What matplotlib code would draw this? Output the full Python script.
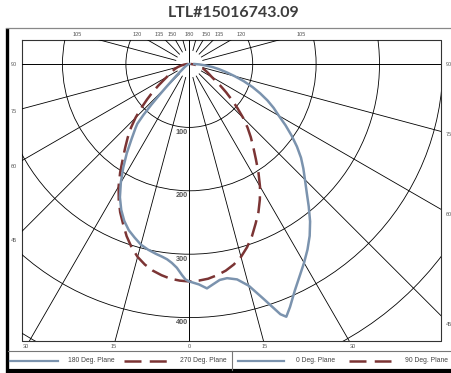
import matplotlib
matplotlib.use("Agg")
import matplotlib.pyplot as plt
from matplotlib.patches import Circle
import numpy as np

W, H, DPI = 452, 373, 100

title = "LTL#15016743.09"

# ---- data: candela values vs. angle from nadir (degrees) ----
angles_90 = [0, 2.5, 5, 7.5, 10, 12.5, 15, 17.5, 20, 22.5, 25, 27.5, 30, 32.5, 35,
             37.5, 40, 42.5, 45, 47.5, 50, 52.5, 55, 57.5, 60, 62.5, 65, 67.5, 70,
             72.5, 75, 77.5, 80, 82.5, 85, 87.5, 90]
cd_90_plane = [343, 342, 340, 336, 331, 324, 315, 303, 289, 273, 258, 241, 223, 203, 183,
               166, 151, 136, 120, 103, 87, 73, 60, 49, 41, 36, 32, 28, 25,
               22, 19, 15, 12, 9, 6, 4, 2]
angles_270 = list(angles_90)
cd_270_plane = list(cd_90_plane)

angles_0 = [0, 2.5, 4.5, 6, 8, 10, 12.5, 15, 17.5, 20, 21, 22.5, 25, 27.5, 30, 32.5,
            35, 37.5, 40, 42.5, 45, 47.5, 50, 52.5, 55, 57.5, 60, 62.5, 65, 67.5,
            70, 72.5, 75, 77.5, 80, 82.5, 85, 87.5, 90]
cd_0_plane = [343, 348, 355, 350, 344, 343, 348, 362, 388, 420, 427, 415, 394, 377, 362, 347,
              331, 313, 293, 274, 258, 244, 230, 214, 197, 180, 163, 150, 136, 121,
              106, 90, 74, 60, 48, 37, 25, 16, 8]

angles_180 = [0, 1, 2, 3.5, 5, 6.5, 8, 10, 12.5, 15, 17.5, 20, 22.5, 25, 27.5, 30,
              32.5, 35, 37.5, 40, 41, 42, 43, 44, 45, 46, 48, 50, 55, 60, 70, 80, 90]
cd_180_plane = [343, 340, 333, 322, 315, 310, 307, 304, 300, 295, 287, 279, 268, 254, 237, 216,
                194, 172, 150, 132, 125, 108, 88, 68, 52, 40, 27, 18, 10, 6, 3, 1, 0]

ring_values = [100, 200, 300, 400, 500, 600]
ring_labels = ["100", "200", "300", "400"]
ray_angles = [15, 30, 45, 60, 75, 105, 120, 135, 150, 165]
top_labels = [105, 120, 135, 150, 180]
side_labels = [90, 75, 60, 45]
bottom_labels = [30, 15, 0]
legend_labels = ["180 Deg. Plane", "270 Deg. Plane", "0 Deg. Plane", "90 Deg. Plane"]

BLUE = "#7b93ae"
RED = "#7b3434"
GRAYTXT = "#555555"
DASH = (0, (6.8, 2.9))

# ---- geometry (pixels) ----
cx, cy = 189.3, 64.0          # pole position
scale = 0.634                 # px per candela
x0, x1, y0, y1 = 22.0, 441.5, 40.0, 341.0

fig = plt.figure(figsize=(W / DPI, H / DPI), dpi=DPI)
fig.patch.set_facecolor("white")

ov = fig.add_axes([0, 0, 1, 1])
ov.set_xlim(0, W)
ov.set_ylim(H, 0)
ov.axis("off")

ax = fig.add_axes([x0 / W, 1 - y1 / H, (x1 - x0) / W, (y1 - y0) / H])
ax.set_xlim((x0 - cx) / scale, (x1 - cx) / scale)
ax.set_ylim(-(y1 - cy) / scale, (cy - y0) / scale)
ax.axis("off")

# rings
for r in ring_values:
    ax.add_patch(Circle((0, 0), r, fill=False, lw=0.6, ec="black", zorder=1))
# rays
for a in ray_angles:
    t = np.deg2rad(a)
    for s in (-1, 1):
        rr = np.array([22, 1500])
        ax.plot(s * rr * np.sin(t), -rr * np.cos(t), color="black", lw=0.6, zorder=1)
ax.axhline(0, color="black", lw=0.7, zorder=1)
ax.axvline(0, color="black", lw=0.7, zorder=1)


def xy(angles, vals, side):
    t = np.deg2rad(np.asarray(angles, float))
    v = np.asarray(vals, float)
    return side * v * np.sin(t), -v * np.cos(t)


# dashed 270 (left) / 90 (right)
xl, yl = xy(angles_270, cd_270_plane, -1)
xr, yr = xy(angles_90, cd_90_plane, 1)
ax.plot(np.r_[xl[::-1], xr[1:]], np.r_[yl[::-1], yr[1:]], color=RED, lw=1.8,
        ls=DASH, zorder=3, solid_capstyle="butt", dash_capstyle="butt")
# solid 180 (left) / 0 (right)
xl, yl = xy(angles_180, cd_180_plane, -1)
xr, yr = xy(angles_0, cd_0_plane, 1)
ax.plot(np.r_[xl[::-1], xr[1:]], np.r_[yl[::-1], yr[1:]], color=BLUE, lw=1.8,
        zorder=4, solid_joinstyle="round")

# ring labels
for lab, r in zip(ring_labels, ring_values):
    ov.text(188, cy + r * scale + 5.0, lab, ha="right", va="center", fontsize=5.3,
            fontweight="bold", color=GRAYTXT, family="Liberation Sans", zorder=5)

# plot frame
ov.plot([x0, x1, x1, x0, x0], [y0, y0, y1, y1, y0], color="#333333", lw=0.8)

# angle labels
lf = dict(fontsize=4, color=GRAYTXT, family="Liberation Sans", va="center", ha="center")
for a in top_labels:
    ly = 34.0
    d = cy - ly
    if a == 180:
        ov.text(cx, ly, str(a), **lf)
    else:
        off = d / np.tan(np.deg2rad(a - 90))
        ov.text(cx - off, ly, str(a), **lf)
        ov.text(cx + off, ly, str(a), **lf)
for a in side_labels:
    for lx in (14.0, 449.0):
        d = abs(lx - cx)
        ly = cy + (d / np.tan(np.deg2rad(a)) if a != 90 else 0) + 1
        ov.text(lx, ly, str(a), **lf)
for a in bottom_labels:
    ly = 346.7
    off = (ly - cy) * np.tan(np.deg2rad(a))
    ov.text(cx - off, ly, str(a), **lf)
    if a != 0:
        ov.text(cx + off, ly, str(a), **lf)

# outer frame
ov.plot([7.2, 7.2], [28, 373], color="black", lw=2.4, solid_capstyle="butt")
ov.plot([6, 452], [371, 371], color="black", lw=3.0, solid_capstyle="butt")
ov.plot([6, 452], [28.3, 28.3], color="#888888", lw=0.9)
ov.plot([8, 452], [350.5, 350.5], color="#777777", lw=0.8)
ov.plot([232, 232], [350.5, 369.5], color="#777777", lw=0.8)

# legend
ly = 361
tf = dict(fontsize=4.9, color="#444444", family="Liberation Sans", va="center", ha="left")
ov.plot([10, 58], [ly, ly], color=BLUE, lw=1.6)
ov.text(68, ly, legend_labels[0], **tf)
ov.plot([124, 167], [ly, ly], color=RED, lw=1.8, ls=(0, (6.8, 3.3)), dash_capstyle="butt")
ov.text(180, ly, legend_labels[1], **tf)
ov.plot([238, 284], [ly, ly], color=BLUE, lw=1.6)
ov.text(296.5, ly, legend_labels[2], **tf)
ov.plot([349, 391], [ly, ly], color=RED, lw=1.8, ls=(0, (6.8, 3.3)), dash_capstyle="butt")
ov.text(405, ly, legend_labels[3], **tf)

# title
ov.text(234, 12.8, title, ha="center", va="center", fontsize=11.5, fontweight="bold",
        color="#3d3d3d", family="Lato")

fig.savefig("out.png", dpi=DPI, facecolor="white")
